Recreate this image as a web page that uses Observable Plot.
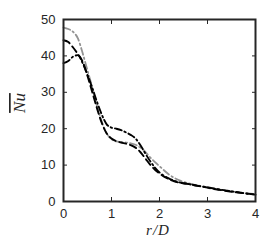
<!DOCTYPE html>
<html><head><meta charset="utf-8">
<script src="https://cdn.jsdelivr.net/npm/d3@7"></script>
<script src="https://cdn.jsdelivr.net/npm/@observablehq/plot@0.6"></script>
<style>body{margin:0;background:#fff}</style>
</head><body><div id="chart"></div>
<script>
const rD = [0, 0.1, 0.2, 0.3, 0.4, 0.5, 0.6, 0.7, 0.8, 0.9, 1.0, 1.1, 1.2, 1.3, 1.4, 1.5, 1.6, 1.7, 1.8, 1.9, 2.0, 2.2, 2.4, 2.6, 2.8, 3.0, 3.2, 3.4, 3.6, 3.8, 4.0];
const nuGray    = [47.8, 47.4, 46.6, 44.8, 40.7, 36.0, 31.3, 26.2, 21.8, 18.7, 17.1, 16.5, 16.3, 16.2, 16.0, 15.6, 14.8, 13.7, 12.2, 10.9, 9.7, 7.4, 5.9, 5.0, 4.4, 3.9, 3.4, 3.0, 2.6, 2.3, 2.0];
const nuDashed  = [44.3, 43.8, 42.3, 40.5, 38.4, 34.5, 30.0, 25.5, 21.5, 18.7, 17.3, 16.6, 16.2, 15.9, 15.5, 14.8, 13.6, 11.9, 10.2, 8.8, 7.7, 6.1, 5.2, 4.8, 4.3, 3.8, 3.3, 2.9, 2.5, 2.2, 1.9];
const nuDashDot = [38.0, 38.6, 39.8, 40.2, 38.0, 34.8, 31.2, 27.3, 23.8, 21.2, 20.3, 20.0, 19.6, 19.0, 18.3, 17.3, 15.5, 13.3, 11.2, 9.4, 8.0, 6.3, 5.3, 4.8, 4.3, 3.9, 3.4, 3.0, 2.6, 2.2, 1.9];
const xTicks = [0, 1, 2, 3, 4];
const yTicks = [0, 10, 20, 30, 40, 50];
const xLabel = "r/D";
const yLabel = "Nu";

const mk = arr => rD.map((r, i) => ({r, nu: arr[i]}));
const axisColor = "#262626";
const font = "Liberation Sans, Arial, sans-serif";
const tickText = {fontSize: 13, fontFamily: font};

const chart = Plot.plot({
  width: 266, height: 251,
  marginTop: 19, marginRight: 11, marginBottom: 50, marginLeft: 63,
  style: {fontFamily: font, fontSize: "13px", color: axisColor, background: "#fff"},
  x: {domain: [0, 4]},
  y: {domain: [0, 50]},
  marks: [
    Plot.line(mk(nuGray), {x: "r", y: "nu", stroke: "#939393", strokeWidth: 1.8, strokeDasharray: "7,3,1.5,3", curve: "monotone-x"}),
    Plot.line(mk(nuDashed), {x: "r", y: "nu", stroke: "#000", strokeWidth: 1.9, strokeDasharray: "7,4", curve: "monotone-x"}),
    Plot.line(mk(nuDashDot), {x: "r", y: "nu", stroke: "#000", strokeWidth: 1.9, strokeDasharray: "7,3,1.5,3", curve: "monotone-x"}),
    Plot.axisX(xTicks, {anchor: "bottom", tickSize: -4, tickPadding: 11, label: null, stroke: axisColor, fill: axisColor, ...tickText}),
    Plot.axisX(xTicks, {anchor: "top", tickSize: -4, label: null, tickFormat: () => "", stroke: axisColor}),
    Plot.axisY(yTicks, {anchor: "left", tickSize: -4, tickPadding: 12, label: null, stroke: axisColor, fill: axisColor, ...tickText}),
    Plot.axisY(yTicks, {anchor: "right", tickSize: -4, label: null, tickFormat: () => "", stroke: axisColor}),
    Plot.frame({stroke: axisColor, strokeWidth: 2})
  ]
});

const svg = d3.select(chart);
svg.append("text")
  .attr("x", 158).attr("y", 235)
  .attr("text-anchor", "middle")
  .style("font-family", "Liberation Serif, Times New Roman, serif")
  .style("font-style", "italic").style("font-size", "15px").style("letter-spacing", "1px").attr("fill", axisColor)
  .text(xLabel);
svg.append("text")
  .attr("transform", "translate(25,103) rotate(-90)")
  .attr("text-anchor", "middle")
  .style("font-family", "Liberation Serif, Times New Roman, serif")
  .style("font-style", "italic").style("font-size", "17px").attr("fill", axisColor)
  .style("text-decoration", "overline")
  .text(yLabel);

document.getElementById("chart").appendChild(chart);
</script>
</body></html>
